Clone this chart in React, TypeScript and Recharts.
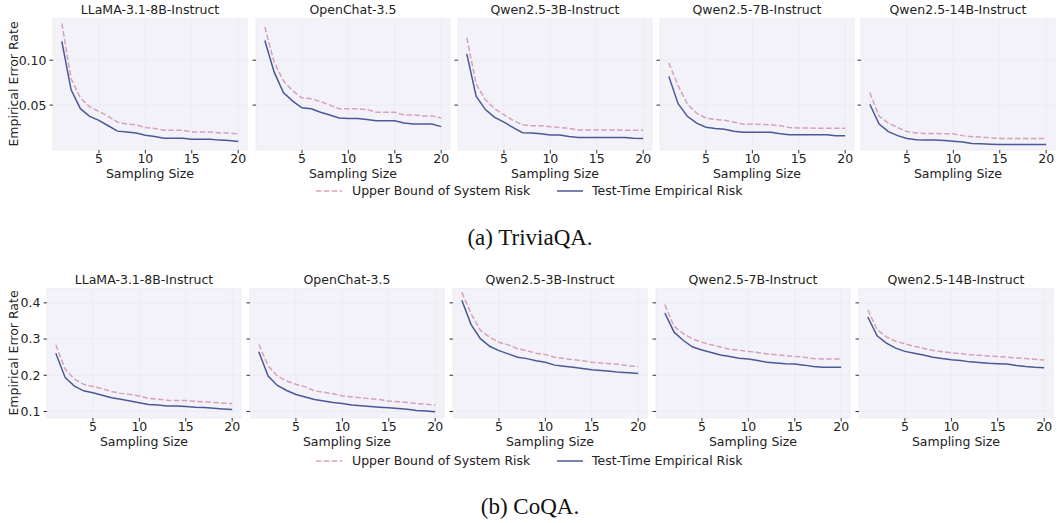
import { LineChart, Line, XAxis, YAxis, CartesianGrid } from "recharts";

const sampleSizes = [1, 2, 3, 4, 5, 6, 7, 8, 9, 10, 11, 12, 13, 14, 15, 16, 17, 18, 19, 20];

const models = [
  "LLaMA-3.1-8B-Instruct",
  "OpenChat-3.5",
  "Qwen2.5-3B-Instruct",
  "Qwen2.5-7B-Instruct",
  "Qwen2.5-14B-Instruct",
];

// TriviaQA
const triviaUpper = [
  [0.141, 0.0795, 0.058, 0.048, 0.043, 0.0375, 0.031, 0.029, 0.028, 0.025, 0.024, 0.022, 0.022, 0.022, 0.02, 0.02, 0.02, 0.019, 0.019, 0.018],
  [0.137, 0.098, 0.077, 0.066, 0.058, 0.057, 0.054, 0.05, 0.046, 0.046, 0.046, 0.045, 0.042, 0.042, 0.042, 0.039, 0.039, 0.038, 0.038, 0.0356],
  [0.125, 0.0735, 0.056, 0.046, 0.039, 0.033, 0.028, 0.027, 0.027, 0.026, 0.025, 0.024, 0.0224, 0.0224, 0.0222, 0.0222, 0.0222, 0.022, 0.022, 0.022],
  [0.097, 0.0716, 0.051, 0.041, 0.0356, 0.034, 0.033, 0.031, 0.0288, 0.0288, 0.0285, 0.028, 0.027, 0.025, 0.0245, 0.0245, 0.0243, 0.0243, 0.0242, 0.0242],
  [0.064, 0.0375, 0.03, 0.025, 0.0205, 0.019, 0.0185, 0.0183, 0.0182, 0.018, 0.016, 0.0148, 0.0145, 0.0135, 0.0129, 0.0129, 0.0129, 0.0129, 0.0129, 0.0129],
];
const triviaTest = [
  [0.121, 0.067, 0.046, 0.0375, 0.033, 0.027, 0.021, 0.02, 0.019, 0.0165, 0.015, 0.013, 0.013, 0.013, 0.012, 0.012, 0.012, 0.011, 0.0105, 0.0095],
  [0.122, 0.087, 0.064, 0.0545, 0.047, 0.046, 0.042, 0.039, 0.0356, 0.035, 0.035, 0.034, 0.0326, 0.0326, 0.0326, 0.03, 0.029, 0.029, 0.029, 0.026],
  [0.107, 0.06, 0.045, 0.0364, 0.031, 0.025, 0.0193, 0.019, 0.018, 0.0167, 0.0167, 0.015, 0.014, 0.014, 0.014, 0.014, 0.014, 0.014, 0.0132, 0.0128],
  [0.082, 0.0515, 0.0375, 0.03, 0.0253, 0.024, 0.023, 0.021, 0.0197, 0.0197, 0.0197, 0.0197, 0.018, 0.017, 0.017, 0.017, 0.017, 0.017, 0.016, 0.0159],
  [0.051, 0.0288, 0.0205, 0.016, 0.0129, 0.0115, 0.011, 0.011, 0.0105, 0.0098, 0.009, 0.0072, 0.007, 0.0065, 0.006, 0.006, 0.006, 0.006, 0.006, 0.006],
];

// CoQA
const coqaUpper = [
  [0.284, 0.217, 0.189, 0.175, 0.169, 0.163, 0.155, 0.15, 0.147, 0.143, 0.136, 0.134, 0.131, 0.13, 0.13, 0.128, 0.127, 0.125, 0.123, 0.122],
  [0.285, 0.226, 0.198, 0.184, 0.175, 0.168, 0.157, 0.153, 0.149, 0.143, 0.14, 0.138, 0.135, 0.133, 0.129, 0.127, 0.125, 0.122, 0.12, 0.118],
  [0.429, 0.37, 0.324, 0.305, 0.291, 0.284, 0.273, 0.268, 0.261, 0.257, 0.25, 0.246, 0.243, 0.24, 0.236, 0.234, 0.232, 0.23, 0.226, 0.224],
  [0.395, 0.335, 0.315, 0.3, 0.291, 0.284, 0.278, 0.272, 0.269, 0.266, 0.263, 0.259, 0.257, 0.254, 0.252, 0.25, 0.246, 0.245, 0.245, 0.245],
  [0.381, 0.326, 0.306, 0.294, 0.287, 0.28, 0.274, 0.269, 0.265, 0.262, 0.26, 0.257, 0.255, 0.253, 0.252, 0.25, 0.248, 0.246, 0.244, 0.242],
];
const coqaTest = [
  [0.261, 0.194, 0.17, 0.157, 0.152, 0.145, 0.138, 0.134, 0.129, 0.124, 0.119, 0.118, 0.115, 0.115, 0.114, 0.112, 0.111, 0.109, 0.107, 0.1055],
  [0.265, 0.198, 0.172, 0.158, 0.147, 0.14, 0.133, 0.129, 0.125, 0.122, 0.118, 0.116, 0.114, 0.112, 0.11, 0.108, 0.106, 0.103, 0.101, 0.099],
  [0.407, 0.34, 0.301, 0.28, 0.268, 0.259, 0.25, 0.246, 0.24, 0.236, 0.228, 0.225, 0.222, 0.219, 0.215, 0.213, 0.211, 0.208, 0.207, 0.205],
  [0.372, 0.319, 0.296, 0.278, 0.27, 0.263, 0.256, 0.252, 0.247, 0.245, 0.241, 0.236, 0.234, 0.232, 0.231, 0.228, 0.224, 0.222, 0.222, 0.222],
  [0.361, 0.309, 0.289, 0.275, 0.266, 0.261, 0.256, 0.25, 0.246, 0.243, 0.241, 0.237, 0.235, 0.233, 0.232, 0.231, 0.227, 0.224, 0.222, 0.221],
];

const xTicks = [5, 10, 15, 20];
const triviaYTicks = [0.05, 0.1];
const coqaYTicks = [0.1, 0.2, 0.3, 0.4];

const UPPER = "#d4a3b9";
const TEST = "#4b5896";
const BG = "#f3f2f8";
const GRID = "#eaeaf1";
const FONT = "'DejaVu Sans', sans-serif";
const YW = 45;
const PW = 194;

type PanelProps = {
  left: number;
  top: number;
  height: number;
  upper: number[];
  test: number[];
  domain: [number, number];
  yTicks: number[];
  fmt: (v: number) => string;
  showY: boolean;
  title: string;
};

function Panel({ left, top, height, upper, test, domain, yTicks, fmt, showY, title }: PanelProps) {
  const data = sampleSizes.map((n, i) => ({ n, upper: upper[i], test: test[i] }));
  const tick = { fill: "#222", fontSize: 12.5, fontFamily: FONT };
  return (
    <>
      <div
        style={{
          position: "absolute",
          left: left,
          top: top - 16,
          width: PW,
          textAlign: "center",
          fontFamily: FONT,
          fontSize: 12.5,
          color: "#222",
          lineHeight: "15px",
          whiteSpace: "nowrap",
        }}
      >
        {title}
      </div>
      <div style={{ position: "absolute", left: left - YW, top: top }}>
        <LineChart width={YW + PW + 4} height={height + 22} data={data} margin={{ top: 0, right: 4, bottom: 0, left: 0 }}>
          <CartesianGrid fill={BG} stroke={GRID} strokeWidth={0.8} />
          <XAxis
            dataKey="n"
            type="number"
            domain={[0.05, 20.95]}
            ticks={xTicks}
            allowDataOverflow
            axisLine={false}
            tickSize={3.5}
            tickMargin={1}
            tickLine={{ stroke: "#333" }}
            tick={tick}
            height={22}
          />
          <YAxis
            type="number"
            domain={domain}
            ticks={yTicks}
            allowDataOverflow
            axisLine={false}
            tickSize={3.5}
            tickMargin={3}
            tickLine={{ stroke: "#333" }}
            tick={tick}
            tickFormatter={(v: number) => (showY ? fmt(v) : "")}
            width={YW}
          />
          <Line dataKey="upper" stroke={UPPER} strokeWidth={1.5} strokeDasharray="5.5 2.4" dot={false} isAnimationActive={false} />
          <Line dataKey="test" stroke={TEST} strokeWidth={1.5} dot={false} isAnimationActive={false} />
        </LineChart>
      </div>
      <div
        style={{
          position: "absolute",
          left: left,
          top: top + height + 16,
          width: PW,
          textAlign: "center",
          fontFamily: FONT,
          fontSize: 12.5,
          color: "#222",
          lineHeight: "15px",
        }}
      >
        Sampling Size
      </div>
    </>
  );
}

function YLabel({ cy }: { cy: number }) {
  return (
    <div
      style={{
        position: "absolute",
        left: 14 - 80,
        top: cy - 8,
        width: 160,
        textAlign: "center",
        transform: "rotate(-90deg)",
        fontFamily: FONT,
        fontSize: 12.5,
        lineHeight: "16px",
        color: "#222",
        whiteSpace: "nowrap",
      }}
    >
      Empirical Error Rate
    </div>
  );
}

function LegendRow({ top }: { top: number }) {
  const text = { position: "absolute" as const, top: top - 8, fontFamily: FONT, fontSize: 12.5, lineHeight: "16px", color: "#222", whiteSpace: "nowrap" as const };
  return (
    <>
      <svg style={{ position: "absolute", left: 314, top: top - 3 }} width={30} height={6}>
        <line x1={2} y1={3} x2={28} y2={3} stroke={UPPER} strokeWidth={1.5} strokeDasharray="5.5 2.4" />
      </svg>
      <div style={{ ...text, left: 352 }}>Upper Bound of System Risk</div>
      <svg style={{ position: "absolute", left: 555, top: top - 3 }} width={30} height={6}>
        <line x1={2} y1={3} x2={28} y2={3} stroke={TEST} strokeWidth={1.5} />
      </svg>
      <div style={{ ...text, left: 592 }}>Test-Time Empirical Risk</div>
    </>
  );
}

function Caption({ cy, children }: { cy: number; children: string }) {
  return (
    <div
      style={{
        position: "absolute",
        left: 0,
        width: 1060,
        top: cy - 13,
        textAlign: "center",
        fontFamily: "'Liberation Serif', 'Times New Roman', serif",
        fontSize: 23,
        lineHeight: "26px",
        color: "#111",
      }}
    >
      {children}
    </div>
  );
}

const topLefts = [53, 256, 458, 660, 861];
const botLefts = [47, 250, 453, 656, 859];

export default function App() {
  return (
    <div style={{ position: "absolute", left: 0, top: 0, width: 1057, height: 523, background: "#fff", overflow: "hidden" }}>
      {models.map((m, i) => (
        <Panel
          key={"t" + i}
          left={topLefts[i]}
          top={18}
          height={132}
          upper={triviaUpper[i]}
          test={triviaTest[i]}
          domain={[0.0, 0.147]}
          yTicks={triviaYTicks}
          fmt={(v) => v.toFixed(2)}
          showY={i === 0}
          title={m}
        />
      ))}
      <YLabel cy={84} />
      <LegendRow top={191} />
      <Caption cy={238}>(a) TriviaQA.</Caption>
      {models.map((m, i) => (
        <Panel
          key={"b" + i}
          left={botLefts[i]}
          top={288}
          height={130}
          upper={coqaUpper[i]}
          test={coqaTest[i]}
          domain={[0.082, 0.441]}
          yTicks={coqaYTicks}
          fmt={(v) => v.toFixed(1)}
          showY={i === 0}
          title={m}
        />
      ))}
      <YLabel cy={353} />
      <LegendRow top={461} />
      <Caption cy={507}>(b) CoQA.</Caption>
    </div>
  );
}
